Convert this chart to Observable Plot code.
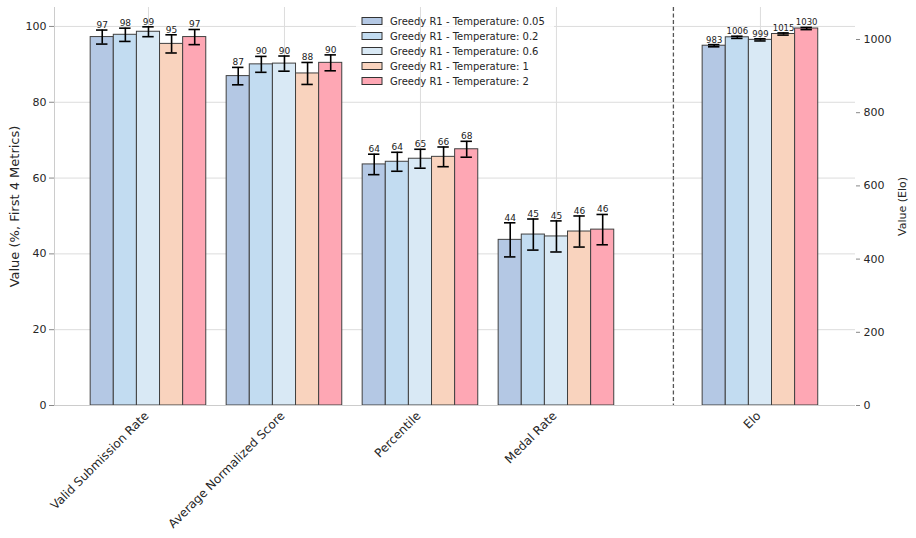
<!DOCTYPE html>
<html>
<head>
<meta charset="utf-8">
<script src="https://cdn.jsdelivr.net/npm/d3@7"></script>
<script src="https://cdn.jsdelivr.net/npm/@observablehq/plot@0.6"></script>
<style>
  body { margin: 0; background: #fff; }
  #chart { width: 916px; height: 538px; }
</style>
</head>
<body>
<div id="chart"></div>
<script>
// ---------- data ----------
const categories = ["Valid Submission Rate", "Average Normalized Score", "Percentile", "Medal Rate", "Elo"];
const temperatures = ["0.05", "0.2", "0.6", "1", "2"];
const seriesNames = temperatures.map(t => `Greedy R1 - Temperature: ${t}`);

const valuesT005 = [97.2, 86.9, 63.6, 43.7, 983];
const valuesT02  = [97.8, 90.0, 64.3, 45.1, 1006];
const valuesT06  = [98.6, 90.2, 65.1, 44.6, 999];
const valuesT1   = [95.4, 87.6, 65.6, 45.9, 1015];
const valuesT2   = [97.2, 90.4, 67.6, 46.4, 1030];

const errT005 = [1.85, 2.3, 2.7, 4.5, 3];
const errT02  = [1.75, 2.1, 2.5, 4.1, 3];
const errT06  = [1.3, 2.0, 2.5, 4.1, 3];
const errT1   = [2.4, 2.9, 2.6, 4.1, 3];
const errT2   = [2.0, 2.1, 2.1, 4.0, 3];

const leftTicks = [0, 20, 40, 60, 80, 100];
const eloTicks = [0, 200, 400, 600, 800, 1000];

const colors = ["#b4c8e4", "#c2dcf1", "#d9e9f5", "#f9d3be", "#fea7b4"];

// ---------- layout ----------
const groupPos = [0, 1, 2, 3, 4.5];
const separatorPos = 3.86;
const barW = 0.17;
const capHalf = 0.042;
const xDomain = [-0.691, 5.199];
const yDomain = [0, 105];
const eloDomainMax = 1087.4;
const k = yDomain[1] / eloDomainMax; // Elo -> left scale

const allValues = [valuesT005, valuesT02, valuesT06, valuesT1, valuesT2];
const allErrs = [errT005, errT02, errT06, errT1, errT2];

const rows = [];
allValues.forEach((vals, j) => {
  vals.forEach((v, i) => {
    const f = categories[i] === "Elo" ? k : 1;
    const e = allErrs[j][i];
    const c = groupPos[i] + (j - 2) * barW;
    rows.push({
      category: categories[i], series: seriesNames[j], j,
      value: v, xc: c, x1: c - barW / 2, x2: c + barW / 2,
      y: v * f, lo: (v - e) * f, hi: (v + e) * f,
      label: String(Math.round(v)), isElo: categories[i] === "Elo"
    });
  });
});

const font = "DejaVu Sans, sans-serif";
const textColor = "#262626";

const plot = Plot.plot({
  width: 916,
  height: 538,
  marginLeft: 54,
  marginRight: 61,
  marginTop: 7,
  marginBottom: 133,
  style: { fontFamily: font, background: "white", overflow: "visible" },
  x: { domain: xDomain, axis: null },
  y: { domain: yDomain, axis: null },
  marks: [
    Plot.gridY(leftTicks, { stroke: "#dcdcdc", strokeOpacity: 1, strokeWidth: 1 }),
    Plot.gridX(groupPos, { stroke: "#dcdcdc", strokeOpacity: 1, strokeWidth: 1 }),
    Plot.ruleX([separatorPos], { stroke: "#555", strokeWidth: 1.3, strokeDasharray: "4,2.5" }),
    Plot.rect(rows, {
      x1: "x1", x2: "x2", y1: 0, y2: "y",
      fill: d => colors[d.j], stroke: "#404040", strokeWidth: 1
    }),
    Plot.ruleX(rows, { x: "xc", y1: "lo", y2: "hi", stroke: "black", strokeWidth: 1.6 }),
    Plot.ruleY(rows, { y: "lo", x1: d => d.xc - capHalf, x2: d => d.xc + capHalf, stroke: "black", strokeWidth: 1.6 }),
    Plot.ruleY(rows, { y: "hi", x1: d => d.xc - capHalf, x2: d => d.xc + capHalf, stroke: "black", strokeWidth: 1.6 }),
    Plot.text(rows, {
      x: "xc", y: "hi", text: "label", lineAnchor: "bottom", dy: -2,
      fontSize: d => d.isElo ? 8.5 : 9, fill: "#222"
    }),
    // spines
    Plot.ruleY([0], { stroke: "#cccccc", strokeWidth: 1 }),
    Plot.ruleX([xDomain[0]], { stroke: "#cccccc", strokeWidth: 1 }),
    // left axis
    Plot.axisY(leftTicks, {
      anchor: "left", tickSize: 5, tickPadding: 3, fontSize: 11,
      stroke: "#888", fill: textColor, label: null
    }),
    // right axis (Elo)
    Plot.axisY(eloTicks.map(t => t * k), {
      anchor: "right", tickSize: 4, tickPadding: 4, fontSize: 11,
      tickFormat: d => String(Math.round(d / k)),
      stroke: "#888", fill: textColor, label: null
    }),
    // category labels
    Plot.text(categories, {
      x: (d, i) => groupPos[i], frameAnchor: "bottom", dy: 11, dx: 1,
      rotate: -45, textAnchor: "end", fontSize: 12, fill: textColor
    }),
    // axis titles
    Plot.text(["Value (%, First 4 Metrics)"], {
      frameAnchor: "left", textAnchor: "middle", dx: -40, rotate: -90, fontSize: 13, fill: textColor
    }),
    Plot.text(["Value (Elo)"], {
      frameAnchor: "right", textAnchor: "middle", dx: 47, rotate: -90, fontSize: 11, fill: textColor
    })
  ]
});

document.getElementById("chart").appendChild(plot);

// ---------- legend (inside plot, upper middle) ----------
const svg = d3.select(plot);
const before = plot.querySelector("g[aria-label='x-grid']");
const bg = document.createElementNS("http://www.w3.org/2000/svg", "rect");
bg.setAttribute("x", 356); bg.setAttribute("y", 11);
bg.setAttribute("width", 198); bg.setAttribute("height", 78);
bg.setAttribute("rx", 3);
bg.setAttribute("fill", "white"); bg.setAttribute("fill-opacity", 0.85);
if (before) before.parentNode.insertBefore(bg, before); else plot.appendChild(bg);

const lg = svg.append("g").attr("font-family", font).attr("font-size", 10).attr("text-anchor", "start");
seriesNames.forEach((name, j) => {
  const cy = 21 + j * 15;
  lg.append("rect").attr("x", 362).attr("y", cy - 3.5).attr("width", 20).attr("height", 7)
    .attr("fill", colors[j]).attr("stroke", "#333").attr("stroke-width", 1);
  lg.append("text").attr("x", 390).attr("y", cy).attr("dy", "0.35em")
    .attr("text-anchor", "start").attr("fill", textColor).text(name);
});
</script>
</body>
</html>
